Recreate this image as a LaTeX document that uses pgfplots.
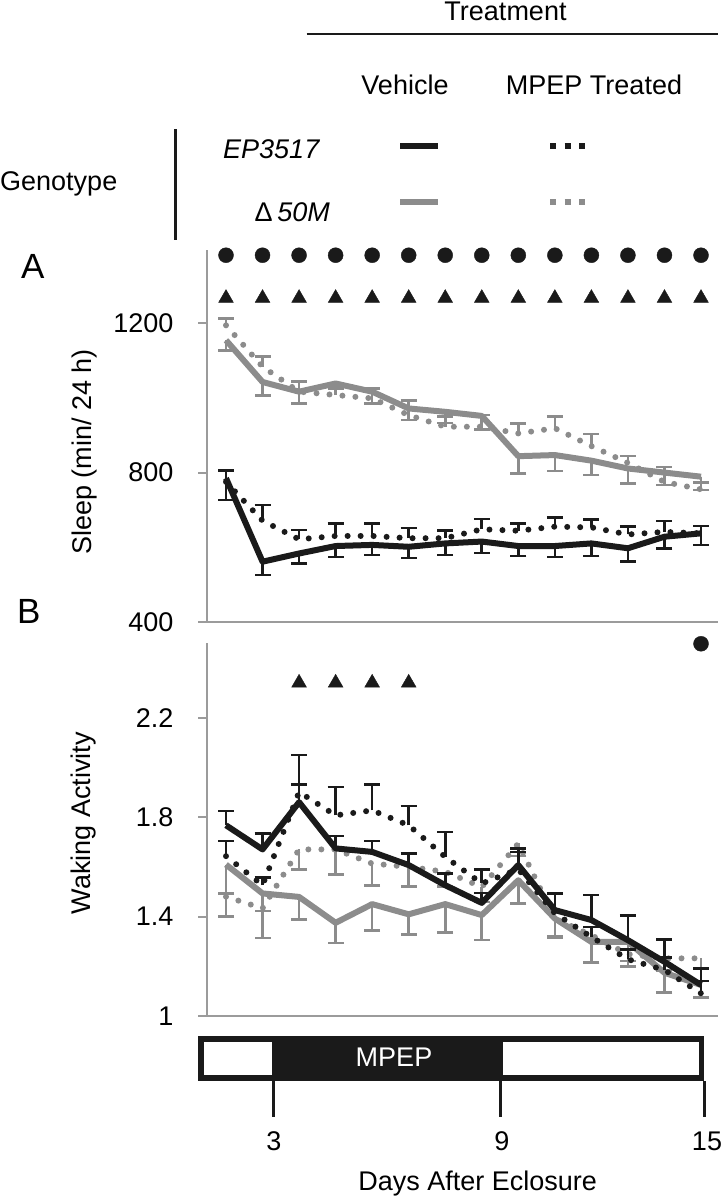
\documentclass[border=0pt]{standalone}
\usepackage{fontspec}
\setmainfont{Liberation Sans}
\usepackage{pgfplots}
\pgfplotsset{compat=1.18}
\definecolor{blk}{RGB}{26,26,26}
\definecolor{gry}{RGB}{140,140,140}
\definecolor{axg}{RGB}{155,155,155}
\newcommand{\bigf}{\fontsize{27bp}{32bp}\selectfont}
\pgfplotsset{
 panel/.style={scale only axis, width=511bp, clip=false, xmin=1.48, xmax=15.465,
   axis x line*=bottom, axis y line*=left, axis line style={axg, line width=2bp, -},
   xtick=\empty, tick align=outside, major tick length=9bp,
   ytick style={axg, line width=2bp},
   yticklabel style={font=\bigf, text=black, xshift=-21bp},
   /pgf/number format/assume math mode=true, /pgf/number format/1000 sep={}},
 sol/.style={line width=6bp, line join=round, mark=none},
 dot/.style={line width=6bp, line cap=round, dash pattern=on 0bp off 13bp, mark=none},
 eb/.style={error bars/y dir=#1, error bars/y explicit,
   error bars/error bar style={line width=2.6bp, solid, line cap=butt},
   error bars/error mark options={rotate=90, line width=2.6bp, solid, line cap=butt, mark size=8bp}},
}
\begin{document}
\begin{tikzpicture}[x=1bp, y=1bp, font=\bigf]
\useasboundingbox (0,0) rectangle (724,-1199);
% ---------- legend block ----------
\node[anchor=base] at (505.5,-20) {Treatment};
\draw[blk, line width=2bp] (306.7,-34.3) -- (718,-34.3);
\node[anchor=base] at (405,-94.3) {Vehicle};
\node[anchor=base] at (594,-94.3) {MPEP Treated};
\draw[blk, line width=3bp] (175,-129.3) -- (175,-240);
\node[anchor=base west, inner sep=0pt] at (0,-190) {Genotype};
\node[anchor=base west, inner sep=0pt] at (223,-158.3) {\itshape EP3517};
\node[anchor=base east, inner sep=0pt] at (330,-221.7) {Δ\,\itshape 50M};
\draw[blk, line width=6bp] (400,-146.3) -- (438,-146.3);
\draw[blk, line width=6bp, dash pattern=on 6bp off 8.5bp] (550,-146.3) -- (585,-146.3);
\draw[gry, line width=6bp] (400,-201.7) -- (438,-201.7);
\draw[gry, line width=6bp, dash pattern=on 6bp off 8.5bp] (550,-201.7) -- (585,-201.7);
% ---------- panel labels ----------
\node[anchor=base west, inner sep=0pt, font=\fontsize{35bp}{40bp}\selectfont] at (21,-278) {A};
\node[anchor=base west, inner sep=0pt, font=\fontsize{35bp}{40bp}\selectfont] at (17,-623) {B};
\node[rotate=90] at (85,-452) {Sleep (min/ 24 h)};
\node[rotate=90] at (84,-823) {Waking Activity};
% ---------- panel A ----------
\begin{axis}[panel, at={(207bp,-621.7bp)}, anchor=south west, height=371.7bp,
  ymin=400, ymax=1397, ytick={400,800,1200}]
\addplot[only marks, mark=*, mark size=7.5bp, blk] coordinates {
 (2,1383)(3,1383)(4,1383)(5,1383)(6,1383)(7,1383)(8,1383)(9,1383)(10,1383)(11,1383)(12,1383)(13,1383)(14,1383)(15,1383)};
\addplot[only marks, mark=triangle*, mark size=8.5bp, blk] coordinates {
 (2,1268)(3,1268)(4,1268)(5,1268)(6,1268)(7,1268)(8,1268)(9,1268)(10,1268)(11,1268)(12,1268)(13,1268)(14,1268)(15,1268)};
% Delta50M MPEP
\addplot[gry, dot, eb=plus] coordinates {
 (2,1195) +- (0,18) (3,1084) +- (0,27) (4,1017) +- (0,27) (5,1008) +- (0,18)
 (6,999) +- (0,27) (7,954) +- (0,40) (8,923) +- (0,27) (9,923) +- (0,31)
 (10,905) +- (0,27) (11,919) +- (0,31) (12,871) +- (0,32) (13,826) +- (0,18)
 (14,775) +- (0,40) (15,755) +- (0,18)};
% Delta50M vehicle
\addplot[gry, sol, eb=minus] coordinates {
 (2,1155) +- (0,27) (3,1043) +- (0,36) (4,1017) +- (0,31) (5,1039) +- (0,15)
 (6,1017) +- (0,31) (7,972) +- (0,31) (8,963) +- (0,30) (9,952) +- (0,37)
 (10,844) +- (0,46) (11,847) +- (0,43) (12,832) +- (0,38) (13,811) +- (0,40)
 (14,800) +- (0,33) (15,789) +- (0,36)};
% EP3517 MPEP
\addplot[blk, dot, eb=plus] coordinates {
 (2,775) +- (0,31) (3,671) +- (0,42) (4,621) +- (0,25) (5,630) +- (0,34)
 (6,630) +- (0,34) (7,624) +- (0,27) (8,624) +- (0,20) (9,648) +- (0,27)
 (10,644) +- (0,20) (11,655) +- (0,25) (12,653) +- (0,21) (13,634) +- (0,22)
 (14,641) +- (0,29) (15,637) +- (0,20)};
% EP3517 vehicle
\addplot[blk, sol, eb=minus] coordinates {
 (2,785) +- (0,58) (3,561) +- (0,36) (4,583) +- (0,27) (5,603) +- (0,29)
 (6,606) +- (0,27) (7,601) +- (0,30) (8,610) +- (0,31) (9,615) +- (0,31)
 (10,603) +- (0,27) (11,603) +- (0,29) (12,610) +- (0,34) (13,597) +- (0,36)
 (14,628) +- (0,31) (15,637) +- (0,31)};
\end{axis}
% ---------- panel B ----------
\begin{axis}[panel, at={(207bp,-1016bp)}, anchor=south west, height=373bp,
  ymin=1, ymax=2.5, ytick={1,1.4,1.8,2.2}, yticklabels={1,1.4,1.8,2.2}]
\addplot[only marks, mark=*, mark size=7.5bp, blk] coordinates {(15,2.497)};
\addplot[only marks, mark=triangle*, mark size=8.5bp, blk] coordinates {(4,2.34)(5,2.34)(6,2.34)(7,2.34)};
% Delta50M MPEP
\addplot[gry, dot, eb=minus] coordinates {
 (2,1.48) +- (0,0.08) (3,1.433) +- (0,0.12) (4,1.67) +- (0,0.08) (5,1.67) +- (0,0.10)
 (6,1.613) +- (0,0.087) (7,1.60) +- (0,0.08) (8,1.58) +- (0,0.06) (9,1.519) +- (0,0.06)
 (10,1.694) +- (0,0.05) (11,1.392) +- (0,0.07) (12,1.325) +- (0,0.11) (13,1.249) +- (0,0.05)
 (14,1.232) +- (0,0.05) (15,1.232) +- (0,0.16)};
% Delta50M vehicle
\addplot[gry, sol, eb=minus] coordinates {
 (2,1.609) +- (0,0.116) (3,1.493) +- (0,0.07) (4,1.479) +- (0,0.091) (5,1.375) +- (0,0.081)
 (6,1.450) +- (0,0.107) (7,1.409) +- (0,0.08) (8,1.450) +- (0,0.115) (9,1.406) +- (0,0.101)
 (10,1.546) +- (0,0.093) (11,1.392) +- (0,0.076) (12,1.298) +- (0,0.084) (13,1.298) +- (0,0.076)
 (14,1.174) +- (0,0.08) (15,1.125) +- (0,0.05)};
% EP3517 MPEP
\addplot[blk, dot, eb=plus] coordinates {
 (2,1.643) +- (0,0.061) (3,1.526) +- (0,0.031) (4,1.901) +- (0,0.03) (5,1.807) +- (0,0.114)
 (6,1.827) +- (0,0.104) (7,1.767) +- (0,0.077) (8,1.640) +- (0,0.10) (9,1.533) +- (0,0.056)
 (10,1.59) +- (0,0.07) (11,1.413) +- (0,0.08) (12,1.318) +- (0,0.04) (13,1.228) +- (0,0.04)
 (14,1.185) +- (0,0.05) (15,1.091) +- (0,0.05)};
% EP3517 vehicle
\addplot[blk, sol, eb=plus] coordinates {
 (2,1.767) +- (0,0.058) (3,1.670) +- (0,0.064) (4,1.86) +- (0,0.19) (5,1.674) +- (0,0.05)
 (6,1.660) +- (0,0.044) (7,1.607) +- (0,0.047) (8,1.526) +- (0,0.047) (9,1.455) +- (0,0.04)
 (10,1.607) +- (0,0.067) (11,1.426) +- (0,0.067) (12,1.386) +- (0,0.10) (13,1.305) +- (0,0.10)
 (14,1.218) +- (0,0.09) (15,1.125) +- (0,0.067)};
\end{axis}
% ---------- treatment bar ----------
\fill[blk] (198,-1036) rectangle (704,-1081);
\fill[white] (203.5,-1042) rectangle (272,-1075);
\fill[white] (503,-1042) rectangle (698.5,-1075);
\node[text=white] at (394,-1057) {MPEP};
\foreach \xx in {273,500,704} \draw[blk, line width=3bp] (\xx,-1081) -- (\xx,-1117);
\node[anchor=base] at (274,-1150) {3};
\node[anchor=base] at (502,-1150) {9};
\node[anchor=base] at (707,-1150) {15};
\node[anchor=base] at (477.6,-1190) {Days After Eclosure};
\end{tikzpicture}
\end{document}
